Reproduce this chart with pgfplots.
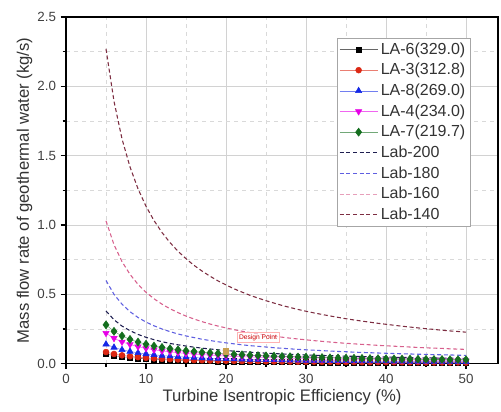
\documentclass[border=0pt]{standalone}
\usepackage{fontspec}
\setmainfont{Liberation Sans}
\usepackage{pgfplots}
\usepackage{pgfplotstable}
\pgfplotsset{compat=1.18}
\usetikzlibrary{calc}

\definecolor{c6}{RGB}{0,0,0}
\definecolor{c3}{RGB}{220,40,20}
\definecolor{c8}{RGB}{20,40,230}
\definecolor{c4}{RGB}{230,0,230}
\definecolor{c7}{RGB}{20,110,30}
\definecolor{l200}{RGB}{30,30,80}
\definecolor{l180}{RGB}{95,95,225}
\definecolor{l160}{RGB}{215,95,140}
\definecolor{l140}{RGB}{125,45,65}

\pgfplotstableread{
x A6 A3 A8 A4 A7 L200 L180 L160 L140
5 0.070 0.084 0.140 0.220 0.280 0.380 0.600 1.030 2.270
6 0.058 0.070 0.117 0.183 0.233 0.317 0.500 0.858 1.892
7 0.050 0.060 0.100 0.157 0.200 0.271 0.429 0.736 1.621
8 0.044 0.053 0.088 0.138 0.175 0.238 0.375 0.644 1.419
9 0.039 0.047 0.078 0.122 0.156 0.211 0.333 0.572 1.261
10 0.035 0.042 0.070 0.110 0.140 0.190 0.300 0.515 1.135
11 0.032 0.038 0.064 0.100 0.127 0.173 0.273 0.468 1.032
12 0.029 0.035 0.058 0.092 0.117 0.158 0.250 0.429 0.946
13 0.027 0.032 0.054 0.085 0.108 0.146 0.231 0.396 0.873
14 0.025 0.030 0.050 0.079 0.100 0.136 0.214 0.368 0.811
15 0.023 0.028 0.047 0.073 0.093 0.127 0.200 0.343 0.757
16 0.022 0.026 0.044 0.069 0.088 0.119 0.188 0.322 0.709
17 0.021 0.025 0.041 0.065 0.082 0.112 0.176 0.303 0.668
18 0.019 0.023 0.039 0.061 0.078 0.106 0.167 0.286 0.631
19 0.018 0.022 0.037 0.058 0.074 0.100 0.158 0.271 0.597
20 0.018 0.021 0.035 0.055 0.070 0.095 0.150 0.258 0.568
21 0.017 0.020 0.033 0.052 0.067 0.090 0.143 0.245 0.540
22 0.016 0.019 0.032 0.050 0.064 0.086 0.136 0.234 0.516
23 0.015 0.018 0.030 0.048 0.061 0.083 0.130 0.224 0.493
24 0.015 0.018 0.029 0.046 0.058 0.079 0.125 0.215 0.473
25 0.014 0.017 0.028 0.044 0.056 0.076 0.120 0.206 0.454
26 0.013 0.016 0.027 0.042 0.054 0.073 0.115 0.198 0.437
27 0.013 0.016 0.026 0.041 0.052 0.070 0.111 0.191 0.420
28 0.013 0.015 0.025 0.039 0.050 0.068 0.107 0.184 0.405
29 0.012 0.014 0.024 0.038 0.048 0.066 0.103 0.178 0.391
30 0.012 0.014 0.023 0.037 0.047 0.063 0.100 0.172 0.378
31 0.011 0.014 0.023 0.035 0.045 0.061 0.097 0.166 0.366
32 0.011 0.013 0.022 0.034 0.044 0.059 0.094 0.161 0.355
33 0.011 0.013 0.021 0.033 0.042 0.058 0.091 0.156 0.344
34 0.010 0.012 0.021 0.032 0.041 0.056 0.088 0.151 0.334
35 0.010 0.012 0.020 0.031 0.040 0.054 0.086 0.147 0.324
36 0.010 0.012 0.019 0.031 0.039 0.053 0.083 0.143 0.315
37 0.009 0.011 0.019 0.030 0.038 0.051 0.081 0.139 0.307
38 0.009 0.011 0.018 0.029 0.037 0.050 0.079 0.136 0.299
39 0.009 0.011 0.018 0.028 0.036 0.049 0.077 0.132 0.291
40 0.009 0.011 0.018 0.028 0.035 0.048 0.075 0.129 0.284
41 0.009 0.010 0.017 0.027 0.034 0.046 0.073 0.126 0.277
42 0.008 0.010 0.017 0.026 0.033 0.045 0.071 0.123 0.270
43 0.008 0.010 0.016 0.026 0.033 0.044 0.070 0.120 0.264
44 0.008 0.010 0.016 0.025 0.032 0.043 0.068 0.117 0.258
45 0.008 0.009 0.016 0.024 0.031 0.042 0.067 0.114 0.252
46 0.008 0.009 0.015 0.024 0.030 0.041 0.065 0.112 0.247
47 0.007 0.009 0.015 0.023 0.030 0.040 0.064 0.110 0.241
48 0.007 0.009 0.015 0.023 0.029 0.040 0.063 0.107 0.236
49 0.007 0.009 0.014 0.022 0.029 0.039 0.061 0.105 0.232
50 0.007 0.008 0.014 0.022 0.028 0.038 0.060 0.103 0.227
}\data

\begin{document}
\begin{tikzpicture}
\begin{axis}[
  name=ax,
  scale only axis,
  width=324pt, height=260pt,
  xmin=0, xmax=54, ymin=0, ymax=2.5,
  xtick={0,10,...,50}, ytick={0,0.5,...,2.5},
  minor x tick num=1, minor y tick num=1,
  grid=both,
  major grid style={gray!35, line width=0.6pt},
  minor grid style={gray!30, dashed, line width=0.5pt},
  axis line style={line width=0.9pt},
  tick align=outside, tick pos=left,
  major tick length=4pt, minor tick length=2.5pt,
  tick style={black, line width=0.8pt},
  /pgf/number format/assume math mode=true,
  ticklabel style={font=\fontsize{10}{12}\selectfont, text=black!75},
  yticklabel style={/pgf/number format/.cd, fixed, fixed zerofill, precision=1},
  xlabel={Turbine Isentropic Efficiency (\%)},
  ylabel={Mass flow rate of geothermal water (kg/s)},
  label style={font=\fontsize{12.5}{14}\selectfont, text=black!80},
  xlabel style={yshift=2pt},
  ylabel style={yshift=-3pt},
  legend style={at={(0.627,0.94)}, anchor=north west, draw=gray!70,
    font=\fontsize{12}{14}\selectfont, fill=white, inner sep=1.5pt,
    row sep=1.3pt, text=black!80},
  legend cell align=left,
  legend image code/.code={\draw[mark repeat=2,mark phase=2] plot coordinates {(0cm,0cm)(0.5cm,0cm)(1.0cm,0cm)};},
]
\addplot[l200, line width=0.8pt, dash pattern=on 3pt off 2pt, forget plot] table[x=x,y=L200]{\data};
\addplot[l180, line width=0.8pt, dash pattern=on 3pt off 2pt, forget plot] table[x=x,y=L180]{\data};
\addplot[l160, line width=0.8pt, dash pattern=on 3pt off 2pt, forget plot] table[x=x,y=L160]{\data};
\addplot[l140, line width=0.8pt, dash pattern=on 3pt off 2pt, forget plot] table[x=x,y=L140]{\data};

\addplot[c6!60, line width=0.4pt, mark=square*, mark size=2pt, mark options={c6, solid}] table[x=x,y=A6]{\data};
\addlegendentry{LA-6(329.0)}
\addplot[c3!60, line width=0.4pt, mark=*, mark size=2.2pt, mark options={c3, solid}] table[x=x,y=A3]{\data};
\addlegendentry{LA-3(312.8)}
\addplot[c8!60, line width=0.4pt, mark=triangle*, mark size=2.7pt, mark options={c8, solid}] table[x=x,y=A8]{\data};
\addlegendentry{LA-8(269.0)}
\addplot[c4!60, line width=0.4pt, mark=triangle*, mark size=2.7pt, mark options={c4, solid, rotate=180}] table[x=x,y=A4]{\data};
\addlegendentry{LA-4(234.0)}
\addplot[c7!60, line width=0.4pt, mark=diamond*, mark size=3pt, mark options={c7, solid}] table[x=x,y=A7]{\data};
\addlegendentry{LA-7(219.7)}

\addlegendimage{l200, line width=0.8pt, dash pattern=on 3pt off 2pt}
\addlegendentry{Lab-200}
\addlegendimage{l180, line width=0.8pt, dash pattern=on 3pt off 2pt}
\addlegendentry{Lab-180}
\addlegendimage{l160!60, line width=0.8pt, dash pattern=on 3pt off 2pt}
\addlegendentry{Lab-160}
\addlegendimage{l140, line width=0.8pt, dash pattern=on 3pt off 2pt}
\addlegendentry{Lab-140}

\addplot[only marks, mark=square*, mark size=2pt, color={rgb,255:red,200;green,160;blue,80}, forget plot] coordinates {(20,0.09)};
\node[draw=red!30, text=red!80!black, font=\fontsize{5}{6}\selectfont, inner sep=1.5pt, fill=white, fill opacity=0.6, text opacity=1] at (axis cs:24,0.19) {Design Point};
\end{axis}
\pgfresetboundingbox
\path[use as bounding box] ($(ax.south west)+(-49.5pt,-36pt)$) rectangle ($(ax.north east)+(2.25pt,12.75pt)$);
\end{tikzpicture}
\end{document}
